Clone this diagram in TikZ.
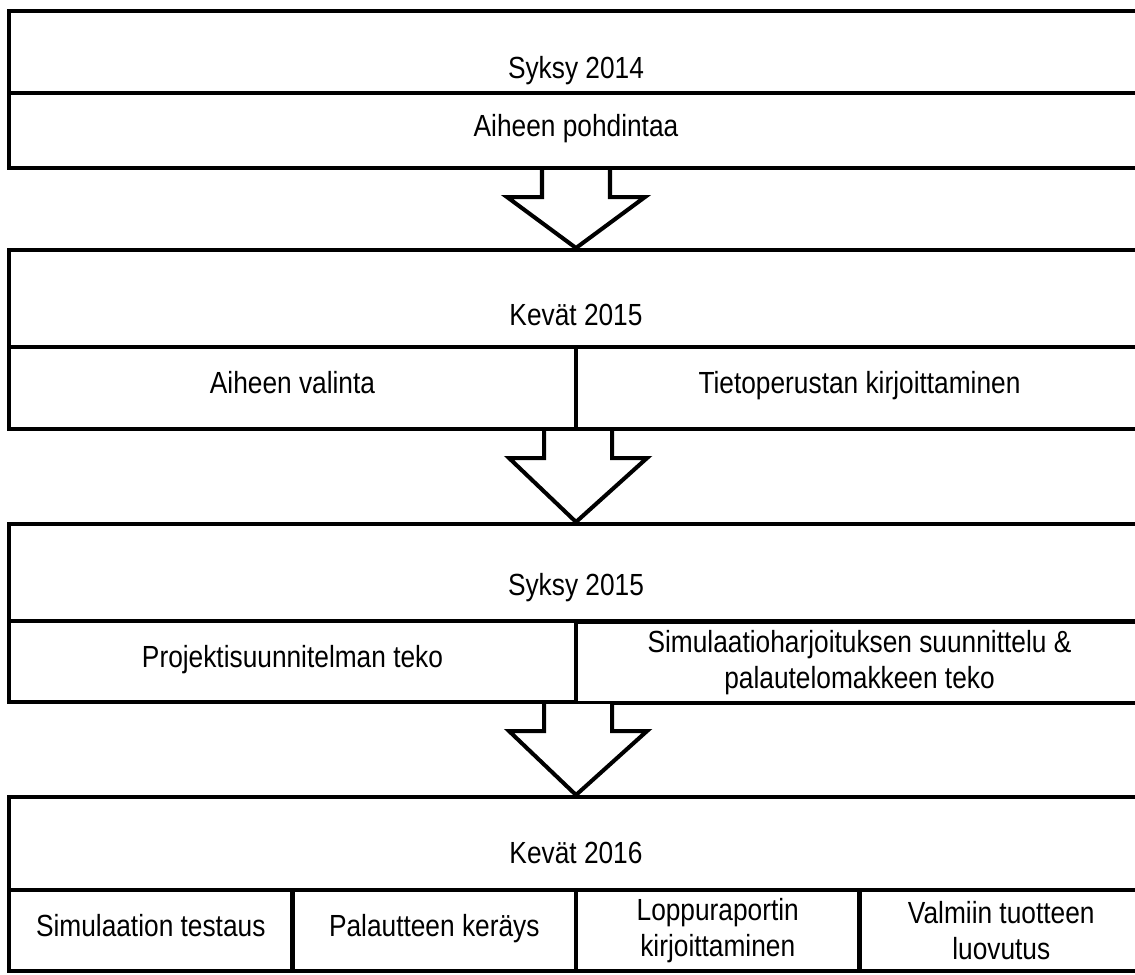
\documentclass[tikz,border=0pt]{standalone}
\usepackage{fontspec}
\setmainfont{Liberation Sans}[FakeStretch=0.86]
\usetikzlibrary{calc}

\tikzset{
  box/.style={draw, rectangle, line width=2.3pt, inner sep=0pt, align=center,
              font=\fontsize{17.4}{20.5}\selectfont},
  oneline/.style={text height=1.6ex, text depth=.4ex},
  boxtext/.style={inner sep=0pt, oneline, font=\fontsize{17.4}{20.5}\selectfont},
  wd/.style={minimum width=#1*0.02cm},
  ht/.style={minimum height=#1*0.02cm},
  arrowshape/.style={draw, line width=2.3pt, fill=white, line join=miter}
}

% block arrow from the bottom of one stage to the top of the next
\newcommand{\stagearrow}[2]{%
  \draw[arrowshape] ($(#1)+(-34,0)$) -- ($(#1)+(-34,27)$) -- ($(#1)+(-69,27)$)
    -- (#2) -- ($(#1)+(69,27)$) -- ($(#1)+(34,27)$) -- ($(#1)+(34,0)$);}

\begin{document}
\begin{tikzpicture}[x=0.02cm, y=-0.02cm]
  \useasboundingbox (0,0) rectangle (1135,974);
  \clip (0,0) rectangle (1135,974);

  \begin{scope}[every node/.style={box}]
    % Syksy 2014
    \node[wd=1134, ht=82] (syksy14) at (576,52) {};
    \node[wd=1134, ht=75, oneline] (pohdinta) at (576,130.5) {Aiheen pohdintaa};

    % Kevät 2015
    \node[wd=1134, ht=97] (kevat15) at (576,298.5) {};
    \node[wd=567, ht=82, oneline] (valinta) at (292.5,388) {Aiheen valinta};
    \node[wd=567, ht=82, oneline] (tietoperusta) at (859.5,388) {Tietoperustan kirjoittaminen};

    % Syksy 2015
    \node[wd=1134, ht=97] (syksy15) at (576,572.5) {};
    \node[wd=567, ht=81, oneline] (projekti) at (292.5,661.5) {Projektisuunnitelman teko};
    \node[wd=567, ht=81] (simsuun) at (859.5,662.5) {Simulaatioharjoituksen suunnittelu \&\\palautelomakkeen teko};

    % Kevät 2016
    \node[wd=1134, ht=93] (kevat16) at (576,843.5) {};
    \node[wd=283.5, ht=81, oneline] (testaus) at (150.75,930.5) {Simulaation testaus};
    \node[wd=283.5, ht=81, oneline] (palaute) at (434.25,930.5) {Palautteen keräys};
    \node[wd=283.5, ht=81] (loppurap) at (717.75,930.5) {Loppuraportin\\kirjoittaminen};
    \node[wd=283.5, ht=81] (luovutus) at (1001.25,930.5) {Valmiin tuotteen\\luovutus};
  \end{scope}

  \node[boxtext] (syksy14t) at (576,73) {Syksy 2014};
  \node[boxtext] (kevat15t) at (576,320) {Kevät 2015};
  \node[boxtext] (syksy15t) at (576,590) {Syksy 2015};
  \node[boxtext] (kevat16t) at (576,858) {Kevät 2016};

  \stagearrow{pohdinta.south}{kevat15.north}
  \stagearrow{valinta.south east}{syksy15.north}
  \stagearrow{projekti.south east}{kevat16.north}
\end{tikzpicture}
\end{document}
